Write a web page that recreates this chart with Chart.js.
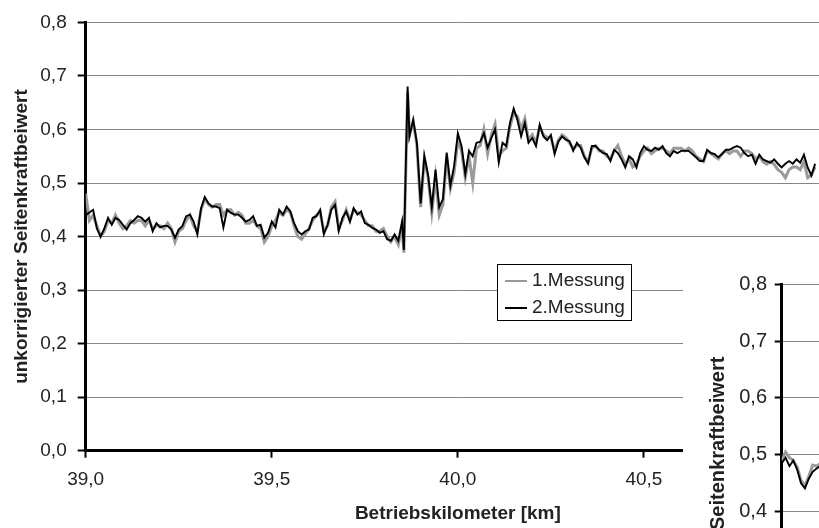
<!DOCTYPE html>
<html lang="de">
<head>
<meta charset="utf-8">
<title>Seitenkraftbeiwert</title>
<script src="https://cdn.jsdelivr.net/npm/chart.js@4.4.1/dist/chart.umd.min.js"></script>
<style>
  html, body { margin: 0; padding: 0; background: #fff; overflow: hidden; }
  #wrap { position: relative; width: 819px; height: 528px; overflow: hidden; background: #fff; }
  #mainChart { position: absolute; left: 0; top: 0; }
  #insetChart { position: absolute; left: 683px; top: 262px; background: #fff; }
</style>
</head>
<body>
<div id="wrap">
  <canvas id="mainChart" width="870" height="528"></canvas>
  <canvas id="insetChart" width="300" height="560"></canvas>
</div>
<script>
// Betriebskilometer [km]
const km = [
  39.00, 39.01, 39.02, 39.03, 39.04, 39.05, 39.06, 39.07, 39.08, 39.09,
  39.10, 39.11, 39.12, 39.13, 39.14, 39.15, 39.16, 39.17, 39.18, 39.19,
  39.20, 39.21, 39.22, 39.23, 39.24, 39.25, 39.26, 39.27, 39.28, 39.29,
  39.30, 39.31, 39.32, 39.33, 39.34, 39.35, 39.36, 39.37, 39.38, 39.39,
  39.40, 39.41, 39.42, 39.43, 39.44, 39.45, 39.46, 39.47, 39.48, 39.49,
  39.50, 39.51, 39.52, 39.53, 39.54, 39.55, 39.56, 39.57, 39.58, 39.59,
  39.60, 39.61, 39.62, 39.63, 39.64, 39.65, 39.66, 39.67, 39.68, 39.69,
  39.70, 39.71, 39.72, 39.73, 39.74, 39.75, 39.76, 39.77, 39.78, 39.79,
  39.80, 39.81, 39.82, 39.83, 39.84, 39.85, 39.855, 39.865,
  39.87, 39.88, 39.89,
  39.90, 39.91, 39.92, 39.93, 39.94, 39.95, 39.96, 39.97, 39.98, 39.99,
  40.00, 40.01, 40.02, 40.03, 40.04, 40.05, 40.06, 40.07, 40.08, 40.09,
  40.10, 40.11, 40.12, 40.13, 40.14, 40.15, 40.16, 40.17, 40.18, 40.19,
  40.20, 40.21, 40.22, 40.23, 40.24, 40.25, 40.26, 40.27, 40.28, 40.29,
  40.30, 40.31, 40.32, 40.33, 40.34, 40.35, 40.36, 40.37, 40.38, 40.39,
  40.40, 40.41, 40.42, 40.43, 40.44, 40.45, 40.46, 40.47, 40.48, 40.49,
  40.50, 40.51, 40.52, 40.53, 40.54, 40.55, 40.56, 40.57, 40.58, 40.59,
  40.60, 40.61, 40.62, 40.63, 40.64, 40.65, 40.66, 40.67, 40.68, 40.69,
  40.70, 40.71, 40.72, 40.73, 40.74, 40.75, 40.76, 40.77, 40.78, 40.79,
  40.80, 40.81, 40.82, 40.83, 40.84, 40.85, 40.86, 40.87, 40.88, 40.89,
  40.90, 40.91, 40.92, 40.93, 40.94, 40.95, 40.96
];

// 1.Messung (grau)
const messung1 = [
  0.480, 0.430, 0.440, 0.420, 0.400, 0.410, 0.430, 0.425, 0.440, 0.425,
  0.415, 0.420, 0.430, 0.425, 0.430, 0.430, 0.420, 0.430, 0.415, 0.420,
  0.420, 0.415, 0.425, 0.415, 0.390, 0.410, 0.415, 0.430, 0.440, 0.420,
  0.410, 0.450, 0.470, 0.460, 0.455, 0.460, 0.460, 0.440, 0.450, 0.450,
  0.440, 0.445, 0.440, 0.425, 0.425, 0.430, 0.420, 0.415, 0.390, 0.400,
  0.420, 0.430, 0.445, 0.440, 0.450, 0.445, 0.420, 0.400, 0.395, 0.405,
  0.415, 0.430, 0.440, 0.445, 0.410, 0.420, 0.455, 0.465, 0.415, 0.430,
  0.450, 0.430, 0.450, 0.445, 0.440, 0.430, 0.420, 0.420, 0.410, 0.410,
  0.415, 0.400, 0.390, 0.400, 0.385, 0.420, 0.370, 0.670,
  0.590, 0.615, 0.570,
  0.455, 0.545, 0.510, 0.445, 0.510, 0.440, 0.460, 0.550, 0.490, 0.520,
  0.580, 0.560, 0.510, 0.550, 0.500, 0.565, 0.570, 0.600, 0.555, 0.590,
  0.610, 0.550, 0.560, 0.565, 0.605, 0.630, 0.625, 0.600, 0.620, 0.580,
  0.590, 0.575, 0.605, 0.590, 0.585, 0.585, 0.560, 0.580, 0.590, 0.585,
  0.575, 0.565, 0.570, 0.570, 0.550, 0.540, 0.565, 0.570, 0.560, 0.560,
  0.550, 0.545, 0.560, 0.570, 0.550, 0.535, 0.545, 0.530, 0.535, 0.550,
  0.560, 0.565, 0.555, 0.560, 0.565, 0.565, 0.560, 0.555, 0.565, 0.565,
  0.565, 0.560, 0.565, 0.560, 0.550, 0.545, 0.540, 0.560, 0.555, 0.550,
  0.545, 0.555, 0.560, 0.555, 0.560, 0.560, 0.550, 0.560, 0.560, 0.555,
  0.545, 0.550, 0.540, 0.535, 0.540, 0.535, 0.525, 0.520, 0.510, 0.525,
  0.530, 0.530, 0.525, 0.540, 0.510, 0.515, 0.530
];

// 2.Messung (schwarz)
const messung2 = [
  0.440, 0.445, 0.450, 0.415, 0.400, 0.415, 0.435, 0.422, 0.435, 0.431,
  0.422, 0.413, 0.425, 0.431, 0.438, 0.435, 0.428, 0.435, 0.410, 0.425,
  0.417, 0.420, 0.420, 0.413, 0.398, 0.413, 0.420, 0.438, 0.441, 0.428,
  0.404, 0.453, 0.474, 0.462, 0.456, 0.456, 0.453, 0.417, 0.450, 0.444,
  0.441, 0.441, 0.435, 0.428, 0.431, 0.438, 0.420, 0.422, 0.398, 0.407,
  0.428, 0.417, 0.450, 0.441, 0.456, 0.447, 0.425, 0.410, 0.404, 0.410,
  0.413, 0.435, 0.438, 0.450, 0.404, 0.422, 0.450, 0.459, 0.410, 0.435,
  0.447, 0.428, 0.453, 0.441, 0.447, 0.425, 0.422, 0.416, 0.413, 0.407,
  0.410, 0.395, 0.392, 0.404, 0.392, 0.428, 0.375, 0.680,
  0.587, 0.618, 0.575,
  0.462, 0.551, 0.515, 0.455, 0.525, 0.455, 0.470, 0.557, 0.495, 0.532,
  0.593, 0.569, 0.517, 0.560, 0.550, 0.575, 0.577, 0.593, 0.566, 0.584,
  0.600, 0.538, 0.575, 0.569, 0.612, 0.639, 0.618, 0.587, 0.612, 0.575,
  0.584, 0.569, 0.609, 0.587, 0.580, 0.590, 0.554, 0.577, 0.587, 0.581,
  0.578, 0.560, 0.575, 0.566, 0.548, 0.536, 0.569, 0.569, 0.562, 0.556,
  0.554, 0.541, 0.562, 0.556, 0.544, 0.529, 0.550, 0.544, 0.529, 0.556,
  0.569, 0.562, 0.560, 0.566, 0.562, 0.569, 0.556, 0.550, 0.560, 0.556,
  0.560, 0.560, 0.560, 0.554, 0.548, 0.541, 0.541, 0.562, 0.556, 0.554,
  0.548, 0.554, 0.562, 0.562, 0.566, 0.569, 0.566, 0.556, 0.550, 0.553,
  0.536, 0.553, 0.544, 0.541, 0.538, 0.544, 0.536, 0.529, 0.536, 0.541,
  0.536, 0.544, 0.538, 0.553, 0.529, 0.514, 0.536
];

// zweites (angeschnittenes) Diagramm unten rechts
const insetKm = [39.00, 39.01, 39.02, 39.03, 39.04, 39.05, 39.06, 39.07, 39.08, 39.09, 39.10];
const insetMessung1 = [0.490, 0.505, 0.495, 0.490, 0.478, 0.455, 0.445, 0.462, 0.482, 0.480, 0.485];
const insetMessung2 = [0.485, 0.495, 0.480, 0.490, 0.474, 0.450, 0.441, 0.458, 0.470, 0.476, 0.480];

const FONT = "'Liberation Sans', Arial, Helvetica, sans-serif";
const TEXT = '#222';
Chart.defaults.font.family = FONT;

const fmt = v => Number(v).toFixed(1).replace('.', ',');
const points = (xs, ys) => xs.map((x, i) => ({ x: x, y: ys[i] }));

// Legende als Kasten im Diagramm
const boxLegend = {
  id: 'boxLegend',
  afterDatasetsDraw(chart, args, opts) {
    if (!opts.show) return;
    const ctx = chart.ctx;
    ctx.save();
    ctx.fillStyle = '#fff';
    ctx.fillRect(opts.x, opts.y, opts.w, opts.h);
    ctx.strokeStyle = '#000';
    ctx.lineWidth = 1;
    ctx.strokeRect(opts.x + 0.5, opts.y + 0.5, opts.w, opts.h);
    ctx.font = '19px ' + FONT;
    ctx.textBaseline = 'middle';
    ctx.textAlign = 'left';
    chart.data.datasets.forEach((ds, i) => {
      const y = opts.y + 17 + i * 27;
      ctx.strokeStyle = ds.borderColor;
      ctx.lineWidth = 2;
      ctx.beginPath();
      ctx.moveTo(opts.x + 8, y);
      ctx.lineTo(opts.x + 30, y);
      ctx.stroke();
      ctx.fillStyle = TEXT;
      ctx.fillText(ds.label, opts.x + 35, y);
    });
    ctx.restore();
  }
};

function makeDatasets(xs, s1, s2) {
  return [
    { label: '1.Messung', data: points(xs, s1), borderColor: '#9a9a9a', borderWidth: 3, order: 2 },
    { label: '2.Messung', data: points(xs, s2), borderColor: '#000', borderWidth: 1.9, order: 1 }
  ];
}

new Chart(document.getElementById('mainChart'), {
  type: 'line',
  data: { datasets: makeDatasets(km, messung1, messung2) },
  options: {
    responsive: false,
    animation: false,
    elements: { point: { radius: 0 }, line: { tension: 0 } },
    layout: { padding: { top: 14, right: 40, bottom: 0, left: 0 } },
    plugins: {
      legend: { display: false },
      tooltip: { enabled: false },
      boxLegend: { show: true, x: 497, y: 264, w: 134, h: 56 }
    },
    scales: {
      x: {
        type: 'linear',
        min: 39,
        max: 41,
        ticks: { stepSize: 0.5, callback: fmt, color: TEXT, font: { size: 19 }, padding: 11, maxRotation: 0 },
        grid: { drawOnChartArea: false, drawTicks: true, tickLength: 7, tickColor: '#000', tickWidth: 2 },
        border: { color: '#000', width: 3 },
        title: {
          display: true,
          text: 'Betriebskilometer [km]',
          color: TEXT,
          font: { size: 19, weight: 'bold' },
          padding: { top: 0, bottom: 3 }
        },
        afterFit: scale => { scale.height = 77.3; }
      },
      y: {
        min: 0,
        max: 0.8,
        ticks: { stepSize: 0.1, callback: fmt, color: TEXT, font: { size: 19 }, padding: 11 },
        grid: { color: '#858585', lineWidth: 1, tickColor: '#000', tickLength: 8, tickWidth: 2 },
        border: { color: '#000', width: 3 },
        title: {
          display: true,
          text: 'unkorrigierter Seitenkraftbeiwert',
          color: TEXT,
          font: { size: 19, weight: 'bold' },
          padding: { top: 10.6, bottom: 0 }
        },
        afterFit: scale => { scale.width = 85.7; }
      }
    }
  },
  plugins: [boxLegend]
});

new Chart(document.getElementById('insetChart'), {
  type: 'line',
  data: { datasets: makeDatasets(insetKm, insetMessung1, insetMessung2) },
  options: {
    responsive: false,
    animation: false,
    elements: { point: { radius: 0 }, line: { tension: 0 } },
    layout: { padding: { top: 22.3, right: 7.8, bottom: 83, left: 0 } },
    plugins: {
      legend: { display: false },
      tooltip: { enabled: false },
      boxLegend: { show: false }
    },
    scales: {
      x: { type: 'linear', min: 39, max: 39.5, display: false },
      y: {
        min: 0,
        max: 0.8,
        ticks: { stepSize: 0.1, callback: fmt, color: TEXT, font: { size: 20 }, padding: 7.7 },
        grid: { color: '#858585', lineWidth: 1, tickColor: '#000', tickLength: 7, tickWidth: 2 },
        border: { color: '#000', width: 3 },
        title: {
          display: true,
          text: 'unkorrigierter Seitenkraftbeiwert',
          color: TEXT,
          font: { size: 20, weight: 'bold' },
          padding: { top: 23, bottom: 0 }
        },
        afterFit: scale => { scale.width = 98.7; }
      }
    }
  },
  plugins: [boxLegend]
});
</script>
</body>
</html>
